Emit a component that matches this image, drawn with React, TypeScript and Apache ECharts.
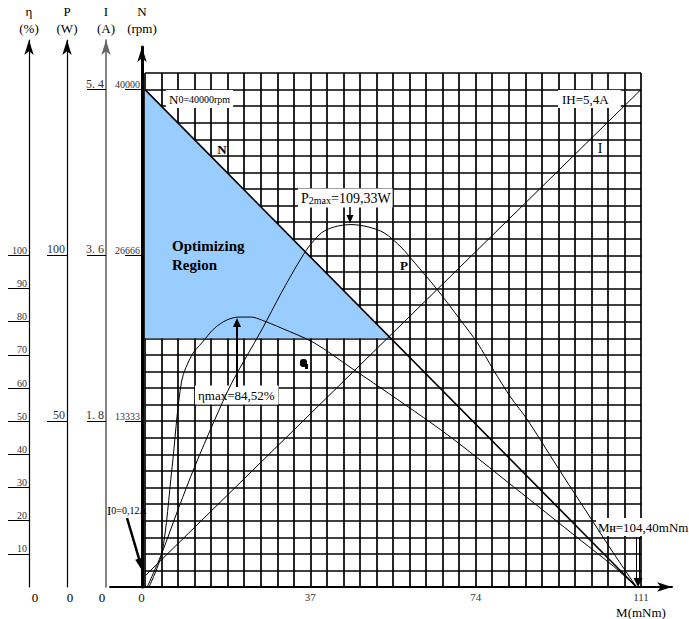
import React, { useEffect, useRef } from 'react';
import * as echarts from 'echarts';

// ---------- data ----------
const effTorque = [0.9, 3.8, 6.0, 8.2, 10.5, 12.7, 15.6, 18.3, 21.0, 23.8, 26.1, 30.5, 37.9, 46.1, 52.8, 67.8, 82.5, 97.4, 104.8, 110];
const effPercent = [0, 10.3, 35.3, 62.1, 70.0, 73.6, 78.1, 80.5, 81.4, 81.4, 80.5, 78.1, 73.6, 66.1, 60.0, 45.8, 30.2, 14.2, 6.3, 0];
const powTorque = [0.5, 3.8, 7.6, 11.1, 15.6, 19.4, 26.1, 30.5, 34.3, 36.6, 39.5, 42.4, 46.1, 49.9, 53.5, 57.3, 60.2, 65.1, 70.6, 74.4, 78.0, 81.8, 85.6, 92.3, 99.0, 104.8, 110];
const powWatt = [0, 10.3, 24.1, 36.2, 50.4, 61.5, 77.5, 88.7, 97.7, 102.5, 106.8, 108.6, 109.3, 108.6, 106.8, 102.5, 98.0, 90.2, 80.5, 73.6, 65.4, 57.3, 50.4, 36.2, 22.3, 10.3, 0];
const curTorque = [0, 111];
const curAmp = [0.12, 5.4];
const spdTorque = [0, 110];
const spdRpm = [40000, 0];
const regionTorque = [0, 0, 55];
const regionRpm = [40000, 20000, 20000];
const torqueLabels = [0, 37, 74, 111];
const etaTicks = [10, 20, 30, 40, 50, 60, 70, 80, 90, 100];
const powTicks = [50, 100];
const curTicks = [1.8, 3.6, 5.4];
const spdTicks = [13333, 26666, 40000];

// full-scale equivalences (all drawn on the rpm scale)
const RPM_FULL = 40000;
const ETA_FULL = 150;
const P_FULL = 150;
const I_FULL = 5.4;

// ---------- layout ----------
const W = 689, H = 619;
const MAIN_L = 145, MAIN_R = 48, MAIN_T = 73, BOTTOM = 32;
const X_MAX = 111;
const Y_MAX = (RPM_FULL / 30) * 31;
const mainW = W - MAIN_L - MAIN_R;
const mainH = H - MAIN_T - BOTTOM;
const rpmPerPx = Y_MAX / mainH;
const tqPerPx = X_MAX / mainW;
const SIDE_L = 110, SIDE_R = 17, SIDE_T = 40;
const sideMaxRpm = (H - SIDE_T - BOTTOM) * rpmPerPx;
const N_L = 142, N_T = 47;
const nMaxRpm = (H - N_T - BOTTOM) * rpmPerPx;
const xMinSide = -(MAIN_L - SIDE_L) * tqPerPx;
const xMaxSide = xMinSide + (W - SIDE_L - SIDE_R) * tqPerPx;

const serif = '"Liberation Serif", "Times New Roman", serif';

function arrow(x1: number, y1: number, x2: number, y2: number, width: number, headLen: number, headW: number) {
  const dx = x2 - x1, dy = y2 - y1;
  const L = Math.hypot(dx, dy);
  const ux = dx / L, uy = dy / L;
  const bx = x2 - ux * headLen, by = y2 - uy * headLen;
  const px = (-uy * headW) / 2, py = (ux * headW) / 2;
  return [
    { type: 'line', z: 6, silent: true, shape: { x1, y1, x2: bx + ux, y2: by + uy }, style: { stroke: '#000', lineWidth: width } },
    { type: 'polygon', z: 6, silent: true, shape: { points: [[x2, y2], [bx + px, by + py], [bx - px, by - py]] }, style: { fill: '#000' } },
  ];
}

function txt(x: number, y: number, text: string, extra: any = {}, z = 5) {
  return {
    type: 'text', z, silent: true, x, y,
    style: { text, fontFamily: serif, fontSize: 13, fill: '#000', align: 'left', verticalAlign: 'middle', ...extra },
  };
}

function sideAxis(gridIndex: number, offset: number, max: number, name: string, ticks: number[], tickLen: number, fontSize: number, lineColor: string, lineWidth: number, nameGap: number, formatter?: any) {
  return {
    type: 'value', gridIndex, position: 'left', offset, min: 0, max,
    name, nameLocation: 'end', nameGap,
    nameTextStyle: { fontFamily: serif, fontSize: 13, fontWeight: 'normal', lineHeight: 17, color: '#000' },
    axisLine: { show: true, onZero: false, symbol: ['none', 'arrow'], symbolSize: [7, 15], lineStyle: { color: lineColor, width: lineWidth } },
    axisTick: { show: true, customValues: ticks, length: tickLen, lineStyle: { color: '#000', width: 1 } },
    axisLabel: { show: true, customValues: ticks, fontFamily: serif, fontSize, color: '#333', verticalAlign: 'bottom', margin: 2, formatter: formatter || ((v: number) => String(v)) },
    splitLine: { show: false },
    z: 4,
  };
}

const toRpm = (v: number, full: number) => (v * RPM_FULL) / full;

const option: any = {
  animation: false,
  backgroundColor: '#fff',
  grid: [
    { left: MAIN_L, right: MAIN_R, top: MAIN_T, bottom: BOTTOM },
    { left: SIDE_L, right: SIDE_R, top: SIDE_T, bottom: BOTTOM },
    { left: N_L, right: SIDE_R, top: N_T, bottom: BOTTOM },
  ],
  xAxis: [
    {
      type: 'value', gridIndex: 0, min: 0, max: X_MAX, interval: X_MAX / 30,
      axisLine: { show: false }, axisTick: { show: false }, axisLabel: { show: false },
      splitLine: { show: true, lineStyle: { color: '#000', width: 1.7 } },
    },
    {
      type: 'value', gridIndex: 1, min: xMinSide, max: xMaxSide, z: 4,
      axisLine: { show: true, onZero: false, symbol: ['none', 'arrow'], symbolSize: [7, 15], lineStyle: { color: '#000', width: 2 } },
      axisTick: { show: false },
      axisLabel: {
        show: true, customValues: torqueLabels, margin: 4, fontFamily: serif, fontSize: 11, color: '#333',
        formatter: (v: number) => (Math.abs(v) < 1e-6 ? '{z|0}' : String(Math.round(v))),
        rich: { z: { fontFamily: serif, fontSize: 13, color: '#222', padding: [0, 7, 0, 0] } },
      },
      splitLine: { show: false },
    },
    { type: 'value', gridIndex: 2, min: 0, max: 1, show: false },
  ],
  yAxis: [
    {
      type: 'value', gridIndex: 0, min: 0, max: Y_MAX, interval: RPM_FULL / 30,
      axisLine: { show: false }, axisTick: { show: false }, axisLabel: { show: false },
      splitLine: { show: true, lineStyle: { color: '#000', width: 1.7 } },
    },
    sideAxis(1, SIDE_L - 29, (sideMaxRpm * ETA_FULL) / RPM_FULL, 'η\n(%)', etaTicks, 21, 10, '#000', 1.2, 3),
    sideAxis(1, SIDE_L - 67, (sideMaxRpm * P_FULL) / RPM_FULL, 'P\n(W)', powTicks, 20, 12, '#000', 1.2, 3),
    sideAxis(1, SIDE_L - 106, (sideMaxRpm * I_FULL) / RPM_FULL, 'I\n(A)', curTicks, 19, 12, '#666', 1.6, 3,
      (v: number) => v.toFixed(1).replace('.', '. ')),
    sideAxis(2, 0, nMaxRpm, 'N\n(rpm)', spdTicks, 17, 10, '#000', 3, 10),
  ],
  series: [
    {
      type: 'custom', xAxisIndex: 0, yAxisIndex: 0, z: 2, silent: true,
      data: regionTorque.map((m, i) => [m, regionRpm[i]]),
      renderItem: (params: any, api: any) => {
        if (params.dataIndex !== 0) return null;
        const pts = regionTorque.map((m, i) => api.coord([m, regionRpm[i]]));
        return { type: 'polygon', shape: { points: pts }, style: { fill: '#99ccff' } };
      },
    },
    {
      type: 'line', name: 'N', xAxisIndex: 0, yAxisIndex: 0, z: 3, symbol: 'none', silent: true,
      data: spdTorque.map((m, i) => [m, spdRpm[i]]),
      lineStyle: { color: '#000', width: 1.6 },
    },
    {
      type: 'line', name: 'I', xAxisIndex: 0, yAxisIndex: 0, z: 3, symbol: 'none', silent: true,
      data: curTorque.map((m, i) => [m, toRpm(curAmp[i], I_FULL)]),
      lineStyle: { color: '#000', width: 1 },
    },
    {
      type: 'line', name: 'P', xAxisIndex: 0, yAxisIndex: 0, z: 3, symbol: 'none', silent: true,
      smooth: 0.3,
      data: powTorque.map((m, i) => [m, toRpm(powWatt[i], P_FULL)]),
      lineStyle: { color: '#000', width: 1 },
    },
    {
      type: 'line', name: 'eta', xAxisIndex: 0, yAxisIndex: 0, z: 3, symbol: 'none', silent: true,
      smooth: 0.3,
      data: effTorque.map((m, i) => [m, toRpm(effPercent[i], ETA_FULL)]),
      lineStyle: { color: '#000', width: 1 },
    },
  ],
  graphic: {
    elements: [
      // label boxes (above grid, below curves)
      txt(166, 99, '{a|N}{b|0=40000rpm}', {
        backgroundColor: '#fff', padding: [3, 3, 2, 3],
        rich: { a: { fontFamily: serif, fontSize: 13, fill: '#000' }, b: { fontFamily: serif, fontSize: 10, fill: '#000' } },
      }, 1),
      txt(558, 99, 'IH=5,4A', { backgroundColor: '#fff', padding: [3, 12, 2, 4] }, 1),
      txt(298, 198, '{a|P}{b|2max}{a|=109,33W}', {
        backgroundColor: '#fff', padding: [3, 2, 2, 3],
        rich: { a: { fontFamily: serif, fontSize: 14, fill: '#000' }, b: { fontFamily: serif, fontSize: 10, fill: '#000', padding: [3, 0, 0, 0] } },
      }, 1),
      txt(195, 395, 'ηmax=84,52%', { backgroundColor: '#fff', padding: [3, 4, 3, 3] }, 1),
      txt(596, 527, '{a|M}{b|H}{a|=104,40mNm}', {
        backgroundColor: '#fff', padding: [3, 2, 2, 2],
        rich: { a: { fontFamily: serif, fontSize: 13, fill: '#000' }, b: { fontFamily: serif, fontSize: 8, fontWeight: 'bold', fill: '#000', padding: [3, 0, 0, 0] } },
      }, 1),
      txt(107, 510, '{a|I}{b|0=0,12A}', {
        rich: { a: { fontFamily: serif, fontSize: 13, fill: '#000' }, b: { fontFamily: serif, fontSize: 10, fill: '#000' } },
      }, 1),
      // curve names
      txt(222, 149, 'N', { fontWeight: 'bold', align: 'center' }),
      txt(404, 265, 'P', { fontWeight: 'bold', align: 'center' }),
      txt(600, 148, 'I', { fontSize: 14, align: 'center' }),
      txt(172, 246, 'Optimizing', { fontWeight: 'bold', fontSize: 15 }),
      txt(172, 265, 'Region', { fontWeight: 'bold', fontSize: 15 }),
      // axis zeros and axis name
      txt(35, 597, '0', { align: 'center' }),
      txt(70, 597, '0', { align: 'center' }),
      txt(102, 597, '0', { align: 'center' }),
      txt(641, 612, 'M(mNm)', { align: 'center' }),
      // small blot
      { type: 'rect', z: 5, silent: true, shape: { x: 300, y: 359, width: 7, height: 8, r: 3 }, style: { fill: '#000' } },
      { type: 'rect', z: 5, silent: true, shape: { x: 305, y: 364, width: 3, height: 5 }, style: { fill: '#000' } },
      // arrows
      ...arrow(350, 207, 350, 223, 1.5, 8, 7),
      ...arrow(237, 387, 237, 318, 2, 9, 8),
      ...arrow(127, 518, 143, 572, 2.5, 14, 8),
      { type: 'line', z: 6, silent: true, shape: { x1: 636.5, y1: 537, x2: 636.5, y2: 579 }, style: { stroke: '#000', lineWidth: 1 } },
      { type: 'line', z: 6, silent: true, shape: { x1: 639.5, y1: 537, x2: 639.5, y2: 579 }, style: { stroke: '#000', lineWidth: 1 } },
      { type: 'polygon', z: 6, silent: true, shape: { points: [[638, 587], [633.5, 578], [642.5, 578]] }, style: { fill: '#000' } },
    ],
  },
};

export default function App() {
  const ref = useRef<HTMLDivElement>(null);
  useEffect(() => {
    const chart = echarts.init(ref.current as HTMLDivElement, null, { renderer: 'svg' });
    chart.setOption(option);
    return () => chart.dispose();
  }, []);
  return <div ref={ref} style={{ position: 'absolute', left: 0, top: 0, width: W, height: H, background: '#fff' }} />;
}
